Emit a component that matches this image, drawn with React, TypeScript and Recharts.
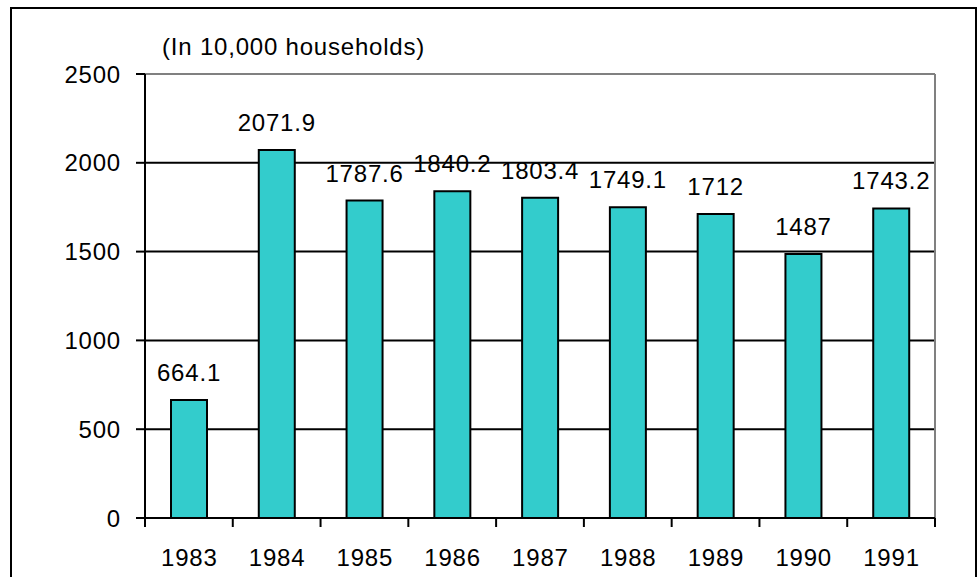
import { BarChart, Bar, XAxis, YAxis, CartesianGrid, ReferenceLine, LabelList } from "recharts";

const YEARS = ["1983", "1984", "1985", "1986", "1987", "1988", "1989", "1990", "1991"];
const HOUSEHOLDS = [664.1, 2071.9, 1787.6, 1840.2, 1803.4, 1749.1, 1712, 1487, 1743.2];
const Y_TICKS = [0, 500, 1000, 1500, 2000, 2500];
const GRID_VALUES = [500, 1000, 1500, 2000];

const data = YEARS.map((year, i) => ({ year, value: HOUSEHOLDS[i] }));

const W = 978;
const H = 577;
const MARGIN = { top: 74, right: 43, bottom: 0, left: 0 };
const Y_AXIS_W = 145;
const PLOT_W = W - MARGIN.left - MARGIN.right - Y_AXIS_W;
const FONT = "'Liberation Sans', Arial, sans-serif";
const FS = 24;
const LS = 0.8;

// Excel style: tick marks sit between categories, not under them
const XTick = (props: any) => {
  const { x, y, payload, index } = props;
  const half = PLOT_W / YEARS.length / 2;
  return (
    <g>
      <line x1={x - half} x2={x - half} y1={y} y2={y + 9} stroke="#000" strokeWidth={2} />
      {index === YEARS.length - 1 && (
        <line x1={x + half} x2={x + half} y1={y} y2={y + 9} stroke="#000" strokeWidth={2} />
      )}
      <text x={x + LS / 2} y={y + 48} textAnchor="middle" fill="#000" fontSize={FS}>
        {payload.value}
      </text>
    </g>
  );
};

export default function App() {
  return (
    <div
      style={{
        position: "absolute",
        left: 0,
        top: 0,
        width: W,
        height: H,
        overflow: "hidden",
        background: "#fff",
        fontFamily: FONT,
        letterSpacing: LS,
      }}
    >
      <div
        style={{
          position: "absolute",
          left: 10,
          top: 7,
          width: 967,
          height: 620,
          border: "2px solid #000",
          boxSizing: "border-box",
        }}
      />
      <div
        style={{
          position: "absolute",
          left: 162,
          top: 35,
          fontSize: FS,
          lineHeight: `${FS}px`,
          color: "#000",
          whiteSpace: "nowrap",
        }}
      >
        (In 10,000 households)
      </div>
      <div style={{ position: "absolute", left: 0, top: 0 }}>
        <BarChart width={W} height={H} data={data} margin={MARGIN} barSize={36}>
          <CartesianGrid vertical={false} horizontalValues={GRID_VALUES} stroke="#000" strokeWidth={2} />
          <ReferenceLine y={2500} stroke="#808080" strokeWidth={2} />
          <ReferenceLine x="1991" position="end" stroke="#808080" strokeWidth={2} />
          <XAxis
            dataKey="year"
            height={59}
            axisLine={{ stroke: "#000", strokeWidth: 2 }}
            tickLine={false}
            tickSize={0}
            tickMargin={0}
            interval={0}
            tick={<XTick />}
          />
          <YAxis
            width={Y_AXIS_W}
            domain={[0, 2500]}
            ticks={Y_TICKS}
            interval={0}
            axisLine={{ stroke: "#000", strokeWidth: 2 }}
            tickLine={{ stroke: "#000", strokeWidth: 2 }}
            tickSize={9}
            tickMargin={15}
            tick={{ fill: "#000", fontSize: FS }}
          />
          <Bar dataKey="value" fill="#33CCCC" stroke="#000" strokeWidth={2} isAnimationActive={false}>
            <LabelList dataKey="value" position="top" offset={19} fill="#000" fontSize={FS} />
          </Bar>
        </BarChart>
      </div>
    </div>
  );
}
